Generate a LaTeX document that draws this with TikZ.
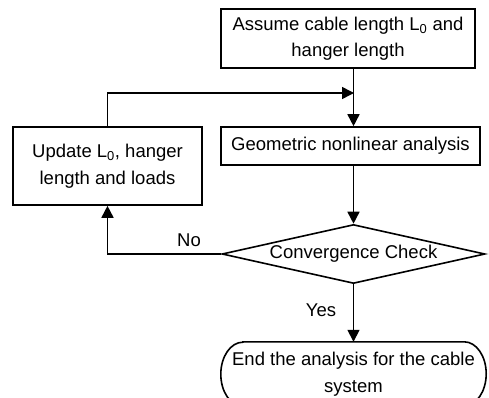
\documentclass[tikz,border=0pt]{standalone}
\usepackage{fontspec}
\setmainfont{Liberation Sans}
\usetikzlibrary{shapes.geometric,arrows.meta,calc}
\begin{document}
\begin{tikzpicture}[x=1pt,y=1pt,
  every node/.style={font=\fontsize{18.5}{26.5}\selectfont},
  box/.style={draw,line width=1.6pt,inner sep=0pt,align=center},
  flow/.style={line width=1.6pt,-{Triangle[length=12pt,width=12pt]}},
  lbl/.style={inner sep=0pt}]
\useasboundingbox (0,0) rectangle (489,-398);
\clip (0,0) rectangle (489,-398);
\node[box,minimum width=254,minimum height=59] (top) at (348,-38.5)
  {Assume cable length L\textsubscript{0} and\\hanger length};
\node[box,minimum width=259,minimum height=38] (geo) at (350.5,-146)
  {Geometric nonlinear analysis};
\node[box,minimum width=189,minimum height=78] (upd) at (107.5,-166)
  {Update L\textsubscript{0}, hanger\\length and loads};
\node[box,diamond,aspect=4.46,minimum width=263,minimum height=59] (chk) at (353.5,-254)
  {Convergence Check};
\node[inner sep=0pt,align=center,minimum width=265,minimum height=64] (end) at (353.5,-374)
  {End the analysis for the cable\\system};
\draw[line width=1.6pt] ($(end.north west)+(22,0)$) -- ($(end.north east)+(-22,0)$)
  arc[start angle=90,end angle=-90,x radius=22,y radius=32]
  -- ($(end.south west)+(22,0)$)
  arc[start angle=270,end angle=90,x radius=22,y radius=32] -- cycle;
\coordinate (j) at (354,-93);
\draw[flow] (top.south -| chk.north) -- (geo.north -| chk.north);
\draw[flow] (upd.north) |- (j);
\draw[flow] (geo.south -| chk.north) -- (chk.north);
\draw[flow] (chk.west) -| (upd.south);
\draw[flow] (chk.south) -- (end.north -| chk.south);
\node[lbl] (no) at (189,-240) {No};
\node[lbl] (yes) at (321,-310) {Yes};
\end{tikzpicture}
\end{document}
